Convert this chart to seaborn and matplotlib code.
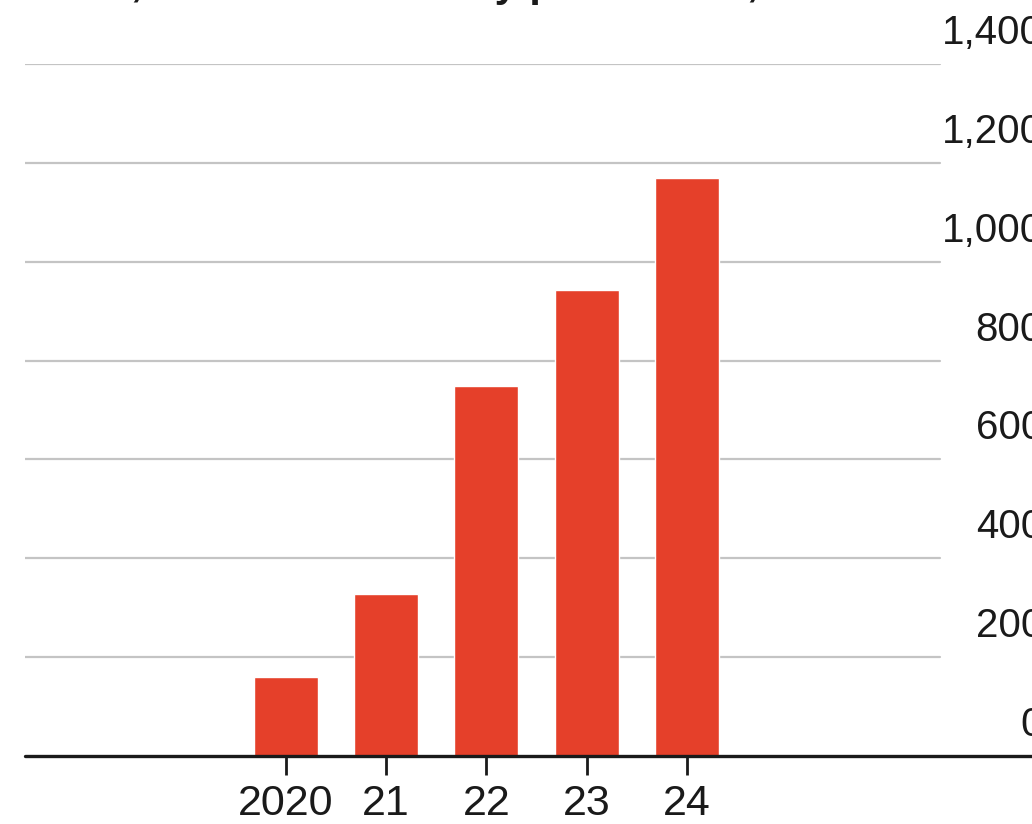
import matplotlib
matplotlib.use("Agg")
import matplotlib.pyplot as plt
import matplotlib.transforms as mtransforms
import seaborn as sns
import pandas as pd

years = ["2020", "21", "22", "23", "24"]
production = [160, 328, 748, 943, 1169]
y_ticks = [0, 200, 400, 600, 800, 1000, 1200, 1400]
y_tick_labels = ["0", "200", "400", "600", "800", "1,000", "1,200", "1,400"]
title = "China, lithium-ion battery production, GWh"

sns.set_theme(style="white")
plt.rcParams["font.family"] = ["Liberation Sans Narrow", "Liberation Sans", "DejaVu Sans"]

W, H = 1032, 824
fig = plt.figure(figsize=(W / 100, H / 100), dpi=100)
fig.patch.set_facecolor("white")

left, right, bottom, top = 25, 1032, 756, 64
ax = fig.add_axes([left / W, 1 - bottom / H, (right - left) / W, (bottom - top) / H])

df = pd.DataFrame({"year": years, "value": production})
sns.barplot(data=df, x="year", y="value", order=years, color="#e5402a",
            saturation=1, width=0.64, ax=ax, zorder=3)

ax.set_xlim(-2.6, 7.44)
ax.set_ylim(0, 1400)

# horizontal gridlines stop short of the right-hand labels
grid_end = (940 - left) / (right - left)
for v in y_ticks[1:]:
    ax.axhline(v, xmin=0, xmax=grid_end, color="#c4c4c4", lw=1.6, zorder=1)
ax.axhline(0, xmin=0, xmax=1, color="#1a1a1a", lw=2.4, zorder=4, clip_on=False)

# value labels sit above their gridlines, right-aligned at the edge
trans = mtransforms.blended_transform_factory(ax.transAxes, ax.transData)
offset = mtransforms.offset_copy(trans, fig=fig, x=0, y=12, units="dots")
for v, lab in zip(y_ticks, y_tick_labels):
    ax.text((1043 - left) / (right - left), v, lab, transform=offset,
            ha="right", va="bottom", fontsize=29, color="#1a1a1a")

ax.set_yticks([])
ax.set_xlabel("")
ax.set_ylabel("")
for s in ax.spines.values():
    s.set_visible(False)
ax.tick_params(axis="x", length=14, width=2, color="#1a1a1a", direction="out",
               labelsize=31, pad=6, bottom=True)
ax.set_xticks(range(len(years)))
ax.set_xticklabels(years, color="#1a1a1a")

fig.text(15 / W, 1 + 4 / H, title, ha="left", va="baseline",
         fontsize=30, fontweight="bold", color="#1a1a1a")

fig.savefig("out.png", dpi=100, facecolor="white")
